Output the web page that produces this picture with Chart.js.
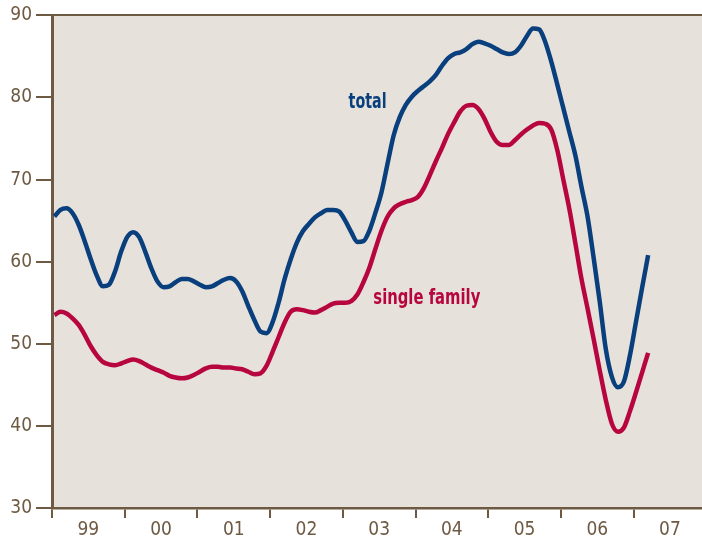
<!DOCTYPE html>
<html>
<head>
<style>
  body { margin: 0; background: #ffffff; }
  canvas { display: block; }
</style>
</head>
<body>

<canvas id="myChart" width="702" height="538"></canvas>

<script src="https://cdn.jsdelivr.net/npm/chart.js"></script>
<script>
// data: monthly values, Jan 1999 .. Mar 2007 (plotted mid-month)
const startYear = 1999;
const yearTicks = [1999, 2000, 2001, 2002, 2003, 2004, 2005, 2006, 2007];
const yearLabels = ['99', '00', '01', '02', '03', '04', '05', '06', '07'];
const yTicks = [30, 40, 50, 60, 70, 80, 90];

const total = [
  65.5, 66.3, 66.5, 65.9, 64.5, 62.5, 60.3, 58.3, 57.0, 57.2, 58.8, 61.2,
  63.0, 63.6, 63.0, 61.2, 59.2, 57.6, 56.9, 57.0, 57.5, 57.9, 57.9, 57.6,
  57.2, 56.9, 57.0, 57.4, 57.8, 58.0, 57.6, 56.4, 54.6, 52.9, 51.5, 51.3,
  52.6, 55.0, 57.9, 60.3, 62.3, 63.7, 64.6, 65.4, 65.9, 66.3, 66.3, 66.1,
  65.0, 63.6, 62.4, 62.5, 63.8, 66.0, 68.5, 72.0, 75.4, 77.6, 79.1, 80.1,
  80.8, 81.4, 82.0, 82.8, 83.9, 84.8, 85.3, 85.5, 85.9, 86.5, 86.8, 86.6,
  86.3, 85.9, 85.5, 85.3, 85.5, 86.3, 87.5, 88.4, 88.3, 86.8, 84.4, 81.6,
  78.7, 75.8, 72.9, 69.1, 65.5, 60.5, 55.2, 49.4, 46.0, 44.7, 45.4, 48.6,
  52.7, 56.8, 60.8
];

const singleFamily = [
  53.5, 53.9, 53.7, 53.1, 52.3, 51.1, 49.7, 48.6, 47.8, 47.5, 47.4, 47.6,
  47.9, 48.1, 47.9, 47.5, 47.1, 46.8, 46.5, 46.1, 45.9, 45.8, 45.9, 46.2,
  46.6, 47.0, 47.2, 47.2, 47.1, 47.1, 47.0, 46.9, 46.6, 46.3, 46.4, 47.3,
  49.0, 50.8, 52.6, 53.9, 54.2, 54.1, 53.9, 53.8, 54.1, 54.5, 54.9, 55.0,
  55.0, 55.2, 56.0, 57.5, 59.3, 61.6, 63.8, 65.5, 66.5, 67.0, 67.3, 67.5,
  67.9, 69.0, 70.6, 72.3, 73.9, 75.6, 77.0, 78.3, 79.0, 79.1, 78.6, 77.4,
  75.8, 74.6, 74.2, 74.2, 74.8, 75.5, 76.1, 76.6, 76.9, 76.8, 76.1, 73.6,
  70.0, 66.4, 62.2, 57.9, 54.3, 50.6, 46.8, 43.2, 40.3, 39.3, 39.8, 41.8,
  44.1, 46.5, 48.9
];

const toPoints = arr => arr.map((v, i) => ({ x: startYear + (i + 0.4) / 12, y: v }));

const brown = '#6e5a43';
const blue = '#083f7c';
const red = '#b7063f';
const tickFont = { family: '"DejaVu Sans", sans-serif', size: 19, weight: 'condensed' };

// plot background
const bgPlugin = {
  id: 'plotBg',
  beforeDraw(chart) {
    const a = chart.chartArea;
    const c = chart.ctx;
    c.save();
    c.fillStyle = '#e7e1db';
    c.fillRect(a.left, a.top, a.right - a.left, a.bottom - a.top);
    c.restore();
  }
};

// series names written inside the plot
function squeezedText(c, text, x, y, width) {
  const w = c.measureText(text).width;
  c.save();
  c.translate(x, y);
  c.scale(width / w, 1);
  c.fillText(text, 0, 0);
  c.restore();
}

const seriesLabels = {
  id: 'seriesLabels',
  afterDatasetsDraw(chart) {
    const c = chart.ctx;
    const x = chart.scales.x, y = chart.scales.y;
    c.save();
    c.font = 'bold 21px "DejaVu Sans", sans-serif';
    c.textBaseline = 'middle';
    c.textAlign = 'left';
    c.fillStyle = blue;
    squeezedText(c, 'total', x.getPixelForValue(2003.08), y.getPixelForValue(79.4), 38);
    c.fillStyle = red;
    squeezedText(c, 'single family', x.getPixelForValue(2003.42), y.getPixelForValue(55.5), 107);
    c.restore();
  }
};

let ctx = document.getElementById('myChart').getContext('2d');
let chart = new Chart(ctx, {
  type: 'line',
  data: {
    datasets: [
      {
        label: 'total',
        data: toPoints(total),
        borderColor: blue,
        borderWidth: 4.5,
        pointRadius: 0,
        cubicInterpolationMode: 'monotone',
        fill: false
      },
      {
        label: 'single family',
        data: toPoints(singleFamily),
        borderColor: red,
        borderWidth: 4.5,
        pointRadius: 0,
        cubicInterpolationMode: 'monotone',
        fill: false
      }
    ]
  },
  options: {
    responsive: false,
    animation: false,
    layout: { padding: { top: 15, right: 0, left: 0, bottom: 0 } },
    plugins: {
      legend: { display: false },
      tooltip: { enabled: false }
    },
    scales: {
      x: {
        type: 'linear',
        min: 1999,
        max: 1999 + 650 / 72.7,
        afterBuildTicks: s => { s.ticks = yearTicks.map(v => ({ value: v })); },
        afterFit: s => { s.height = 30; },
        ticks: {
          autoSkip: false,
          maxRotation: 0,
          labelOffset: 36.35,
          padding: 1,
          color: brown,
          font: tickFont,
          callback: v => yearLabels[yearTicks.indexOf(v)]
        },
        grid: {
          drawOnChartArea: false,
          tickLength: 10,
          tickColor: brown,
          lineWidth: 2
        },
        border: { color: brown, width: 2.5 }
      },
      y: {
        min: 30,
        max: 90,
        afterBuildTicks: s => { s.ticks = yTicks.map(v => ({ value: v })); },
        afterFit: s => { s.width = 52; },
        ticks: {
          padding: 4,
          color: brown,
          font: tickFont
        },
        grid: {
          tickLength: 16,
          lineWidth: 2,
          tickColor: brown,
          color: c => (c.tick && c.tick.value === 90) ? brown : 'rgba(0,0,0,0)'
        },
        border: { color: brown, width: 3 }
      }
    }
  },
  plugins: [bgPlugin, seriesLabels]
});
</script>

</body>
</html>
